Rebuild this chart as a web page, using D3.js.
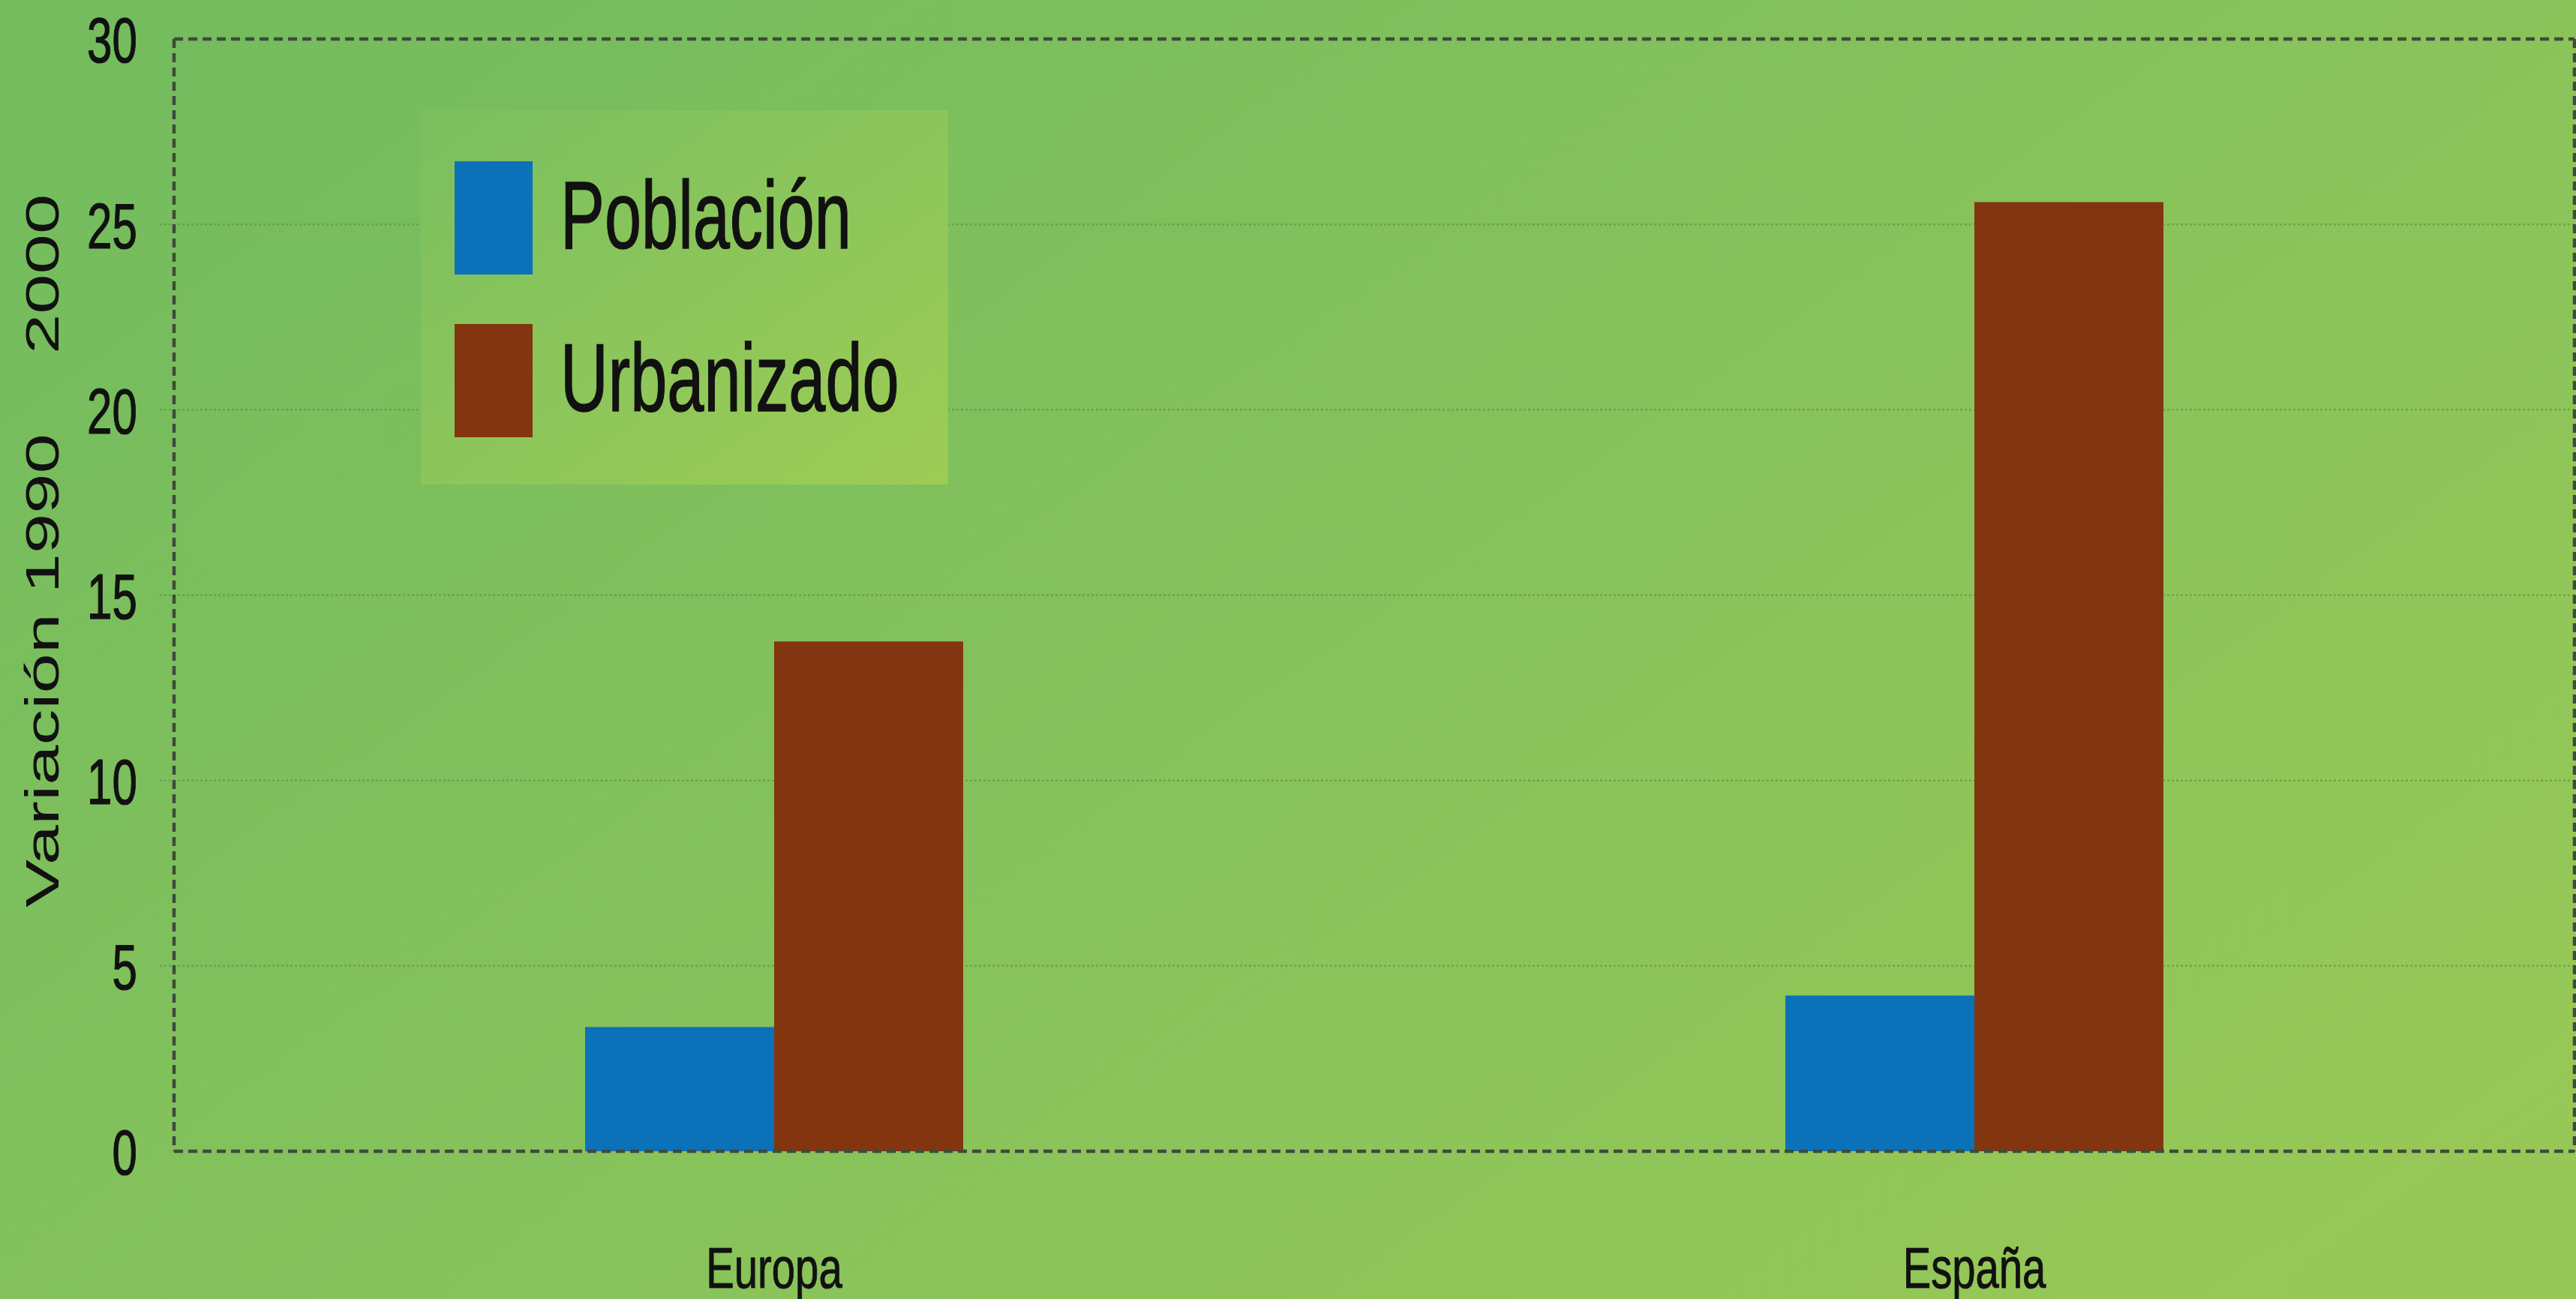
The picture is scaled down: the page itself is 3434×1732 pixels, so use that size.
<!DOCTYPE html>
<html>
<head>
<meta charset="utf-8">
<script src="https://cdn.jsdelivr.net/npm/d3@7"></script>
<style>
  html, body { margin: 0; padding: 0; background: #80c05c; }
  svg { display: block; }
  text { font-family: "Liberation Sans", Arial, sans-serif; fill: #111; }
</style>
</head>
<body>
<svg id="chart" width="3434" height="1732"></svg>
<script>
// ---- data ----
const categories = ["Europa", "España"];
const seriesNames = ["Población", "Urbanizado"];
const poblacion = [3.35, 4.2];
const urbanizado = [13.75, 25.6];
const yTicks = [0, 5, 10, 15, 20, 25, 30];
const yTitle = "Variación 1990    2000";
const seriesColors = ["#0b72ba", "#833510"];

// ---- layout ----
const W = 3434, H = 1732;
const plot = { left: 232, right: 3432, top: 52, bottom: 1535 };
const svg = d3.select("#chart");

// background gradient
const defs = svg.append("defs");
const bg = defs.append("linearGradient").attr("id", "bg")
  .attr("x1", "0").attr("y1", "0.15").attr("x2", "1").attr("y2", "0.85");
bg.append("stop").attr("offset", "0").attr("stop-color", "#74bc5e");
bg.append("stop").attr("offset", "0.5").attr("stop-color", "#86c25b");
bg.append("stop").attr("offset", "1").attr("stop-color", "#97c857");
const lg = defs.append("linearGradient").attr("id", "lg")
  .attr("x1", "0").attr("y1", "0").attr("x2", "1").attr("y2", "1");
lg.append("stop").attr("offset", "0").attr("stop-color", "#7abf5f");
lg.append("stop").attr("offset", "1").attr("stop-color", "#9dcc55");

svg.append("rect").attr("width", W).attr("height", H).attr("fill", "url(#bg)");

// scales
const x = d3.scaleBand().domain(categories).range([plot.left, plot.right]).padding(0);
const groupW = x.bandwidth() * 0.315;
const x1 = d3.scaleBand().domain(seriesNames).range([0, groupW]).padding(0);
const y = d3.scaleLinear().domain([0, 30]).range([plot.bottom, plot.top]);

// gridlines
svg.append("g").selectAll("line")
  .data(yTicks.filter(t => t > 0 && t < 30))
  .join("line")
  .attr("x1", plot.left - 19).attr("x2", plot.right)
  .attr("y1", d => y(d)).attr("y2", d => y(d))
  .attr("stroke", "#5e8f45").attr("stroke-width", 2.5)
  .attr("stroke-dasharray", "3,3").attr("opacity", 0.6);

// bars
const data = categories.map((c, i) => ({ cat: c, values: [poblacion[i], urbanizado[i]] }));
const groups = svg.append("g").selectAll("g").data(data).join("g")
  .attr("transform", d => `translate(${x(d.cat) + (x.bandwidth() - groupW) / 2},0)`);
groups.selectAll("rect")
  .data(d => d.values.map((v, j) => ({ name: seriesNames[j], v, j })))
  .join("rect")
  .attr("x", d => x1(d.name))
  .attr("width", x1.bandwidth())
  .attr("y", d => y(d.v))
  .attr("height", d => y(0) - y(d.v))
  .attr("fill", d => seriesColors[d.j]);

// frame (dashed)
const frameStyle = sel => sel.attr("stroke", "#3f4a3c").attr("stroke-width", 4.5)
  .attr("stroke-dasharray", "12,7").attr("fill", "none");
const frame = svg.append("g");
frame.append("line").attr("x1", plot.left).attr("x2", plot.right)
  .attr("y1", y(30)).attr("y2", y(30)).call(frameStyle);
frame.append("line").attr("x1", plot.left).attr("x2", plot.right)
  .attr("y1", y(0)).attr("y2", y(0)).call(frameStyle);
frame.append("line").attr("x1", plot.left).attr("x2", plot.left)
  .attr("y1", y(30)).attr("y2", y(0)).call(frameStyle);
frame.append("line").attr("x1", plot.right).attr("x2", plot.right)
  .attr("y1", y(30)).attr("y2", y(0)).call(frameStyle);

// y axis labels
const cond = 0.7;
const yAxis = svg.append("g").attr("transform", `translate(${plot.left},0)`)
  .call(d3.axisLeft(y).tickValues(yTicks).tickSize(0).tickFormat(d3.format("d")));
yAxis.select(".domain").remove();
yAxis.selectAll("text")
  .attr("x", -49 / cond).attr("dy", "0.36em")
  .attr("transform", `scale(${cond},1)`)
  .attr("text-anchor", "end")
  .style("font-size", "86px").style("font-family", "'Liberation Sans', Arial, sans-serif")
  .attr("fill", "#111").attr("stroke", "#111").attr("stroke-width", 1.2);

// y title
svg.append("text")
  .attr("transform", `translate(78,1210) rotate(-90) scale(1.52,1)`)
  .attr("xml:space", "preserve").style("white-space", "pre")
  .attr("text-anchor", "start")
  .style("font-size", "63px")
  .text(yTitle);

// x labels
svg.append("g").selectAll("text").data(categories).join("text")
  .attr("transform", d => `translate(${x(d) + x.bandwidth() / 2},1717) scale(0.74,1)`)
  .attr("text-anchor", "middle")
  .style("font-size", "76px")
  .attr("stroke", "#111").attr("stroke-width", 1)
  .text(d => d);

// legend
const legend = svg.append("g");
legend.append("rect").attr("x", 561).attr("y", 147).attr("width", 703).attr("height", 499)
  .attr("fill", "url(#lg)");
const legY = [215, 432];
const legItems = legend.selectAll("g.item").data(seriesNames).join("g").attr("class", "item");
legItems.append("rect")
  .attr("x", 606).attr("y", (d, i) => legY[i])
  .attr("width", 104).attr("height", 151)
  .attr("fill", (d, i) => seriesColors[i]);
legItems.append("text")
  .attr("transform", (d, i) => `translate(747,${legY[i] + 116}) scale(0.69,1)`)
  .style("font-size", "128px")
  .attr("stroke", "#111").attr("stroke-width", 1.5)
  .text(d => d);
</script>
</body>
</html>
